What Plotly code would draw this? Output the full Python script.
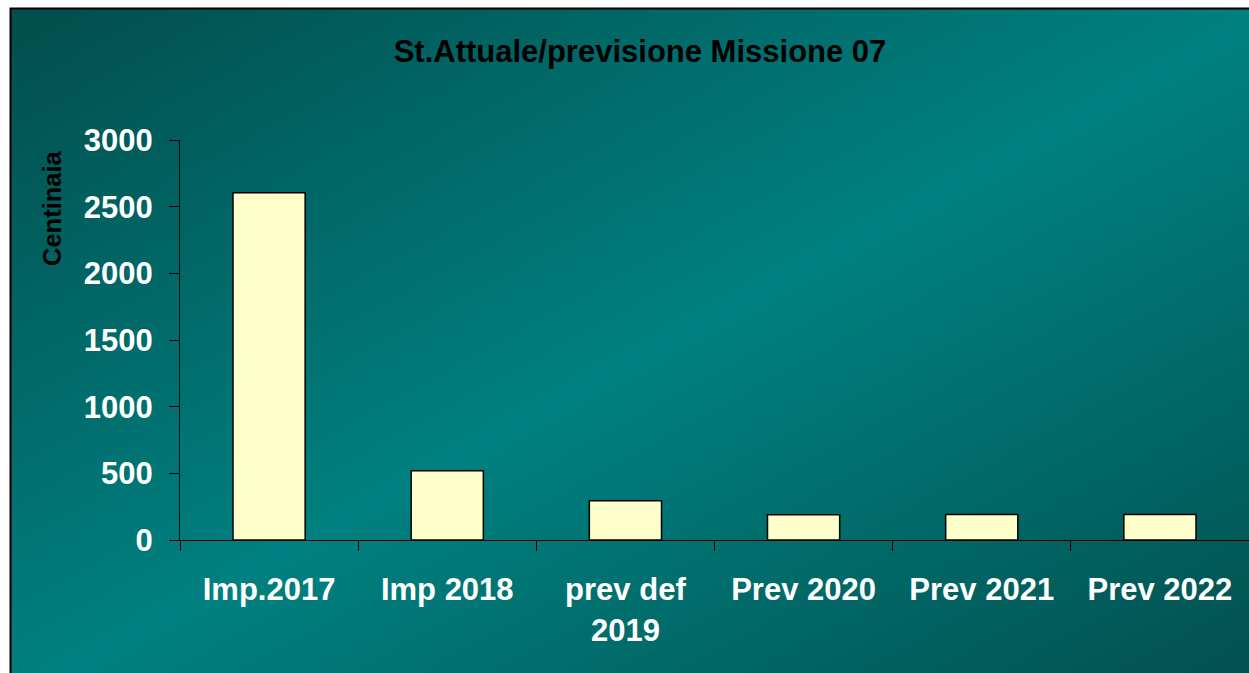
import base64
import plotly.graph_objects as go

categories = ["Imp.2017", "Imp 2018", "prev def<br>2019", "Prev 2020", "Prev 2021", "Prev 2022"]
values = [2605, 520, 295, 190, 192, 192]
y_ticks = [0, 500, 1000, 1500, 2000, 2500, 3000]
title_text = "St.Attuale/previsione Missione 07"
y_title = "Centinaia"

W, H = 1249, 673
L, R, T, B = 180, 0, 140, 133
pw, ph = W - L - R, H - T - B

svg = f'''<svg xmlns="http://www.w3.org/2000/svg" width="{W}" height="{H}" viewBox="0 0 {W} {H}" preserveAspectRatio="none">
<defs><linearGradient id="g" x1="0" y1="0" x2="1" y2="1">
<stop offset="0" stop-color="#024e4c"/><stop offset="0.5" stop-color="#008080"/><stop offset="1" stop-color="#024e4c"/>
</linearGradient></defs>
<rect x="0" y="0" width="{W}" height="{H}" fill="#ffffff"/>
<rect x="10.5" y="8.5" width="{W+20}" height="{H+20}" fill="url(#g)" stroke="#000000" stroke-width="2"/>
</svg>'''
src = "data:image/svg+xml;base64," + base64.b64encode(svg.encode()).decode()

fig = go.Figure()
fig.add_trace(go.Bar(
    x=categories, y=values,
    marker=dict(color="#FFFFCC", line=dict(color="#000000", width=1.5)),
    hoverinfo="x+y",
))

font_family = "Liberation Sans, Arial, sans-serif"

fig.update_layout(
    width=W, height=H,
    margin=dict(l=L, r=R, t=T, b=B, pad=0),
    paper_bgcolor="#ffffff",
    plot_bgcolor="rgba(0,0,0,0)",
    showlegend=False,
    bargap=0.595,
    title=dict(text=title_text, x=640 / W, xref="container", xanchor="center",
               y=1 - 51 / H, yref="container", yanchor="middle",
               font=dict(family=font_family, size=31, color="#000000", weight="bold")),
    images=[dict(source=src, xref="paper", yref="paper",
                 x=-L / pw, y=1 + T / ph, sizex=W / pw, sizey=H / ph,
                 xanchor="left", yanchor="top", sizing="stretch", layer="below")],
    annotations=[dict(text=y_title, textangle=-90, xref="paper", yref="paper",
                      x=(52 - L) / pw, y=(540 - 208) / ph, xanchor="center", yanchor="middle",
                      showarrow=False,
                      font=dict(family=font_family, size=25.5, color="#000000", weight="bold"))],
)

fig.update_yaxes(
    range=[0, 3000], tickvals=y_ticks, showgrid=False, zeroline=False,
    showline=True, linecolor="#000000", linewidth=1,
    ticks="outside", ticklen=10, tickcolor="#000000", tickwidth=1,
    ticklabelstandoff=10,
    tickfont=dict(family=font_family, size=31, color="#ffffff", weight="bold"),
)
fig.update_xaxes(
    showgrid=False, showline=True, linecolor="#000000", linewidth=1,
    ticks="outside", ticklen=10, tickcolor="#000000", tickwidth=1,
    tickson="boundaries", ticklabelstandoff=22,
    tickfont=dict(family=font_family, size=31, color="#ffffff", weight="bold"),
)

fig.write_html("out.html",
               config={"displayModeBar": False},
               post_script="document.body.style.margin='0';document.documentElement.style.overflow='hidden';")
